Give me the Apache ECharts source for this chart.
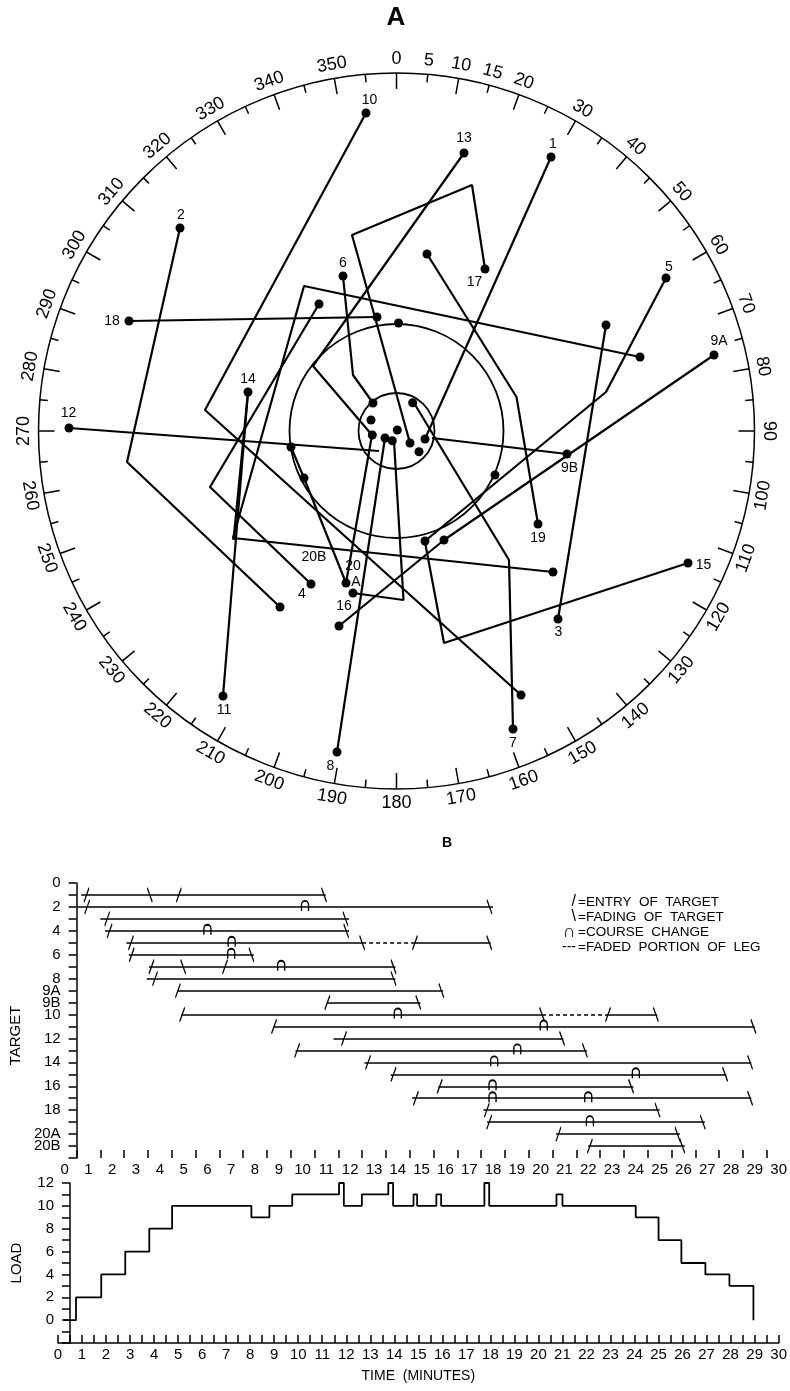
<!DOCTYPE html>
<html><head><meta charset="utf-8">
<script src="https://cdn.jsdelivr.net/npm/echarts@6/dist/echarts.min.js"></script>
<style>html,body{margin:0;padding:0;background:#fff}#c{width:790px;height:1391px}</style>
</head><body><div id="c"></div>
<script>
// ================= PANEL A : radar plot (east, north units; outer ring = 358) =================
const bearingLabels = [0,5,10,15,20,30,40,50,60,70,80,90,100,110,120,130,140,150,160,170,180,190,200,210,220,230,240,250,260,270,280,290,300,310,320,330,340,350];
const rangeRings = [38, 107];
const track1  = [[154.5,274],[28.5,-8]];
const track2  = [[-216.5,203],[-269.5,-31],[-116.5,-176]];
const track3  = [[161.5,-188],[209.5,106]];
const track4  = [[-85.5,-153],[-186.5,-56],[-77.5,127]];
const track5  = [[269.5,153],[209.5,39],[28.5,-110]];
const track6  = [[-53.5,155],[-43.5,56],[-23.5,28]];
const track7  = [[116.5,-298],[112.5,-129],[17.5,28]];
const track8  = [[-59.5,-321],[-11.5,-7]];
const track9A = [[317.5,76],[47.5,-109],[-57.5,-195]];
const track9B = [[170.5,-23],[35.5,-7]];
const track10 = [[-30.5,318],[-191.5,21],[124.5,-264]];
const track11 = [[-173.5,-265],[-148.5,39]];
const track12 = [[-327.5,3],[-17.5,-20]];
const track13 = [[67.5,278],[-83.5,65],[-24.5,-4]];
const track14 = [[-148.5,39],[-163,-109]];
const track15 = [[291.5,-132],[47.5,-212],[28.5,-111]];
const track16 = [[-43.5,-162],[7,-169],[-2.5,-10]];
const track17 = [[88.5,162],[75.5,246],[-44.5,196],[13.5,-12]];
const track18 = [[-267.5,110],[-19.5,114]];
const track19 = [[141.5,-93],[120,34],[30.5,177]];
const track20A = [[-50.5,-152],[-24.5,-4]];
const track20B = [[-105.5,-16],[-92.5,-47],[-50.5,-152]];
const trackP  = [[243.5,74],[-92.5,145],[-163.5,-107],[156.5,-141]];
const dotPoints = [[154.5,274],[28.5,-8],[-216.5,203],[-116.5,-176],[161.5,-188],[209.5,106],
  [-85.5,-153],[-77.5,127],[269.5,153],[28.5,-110],[-53.5,155],[-23.5,28],[116.5,-298],[16.2,28.3],
  [-59.5,-321],[-11.5,-7],[317.5,76],[47.5,-109],[-57.5,-195],[170.5,-23],[-30.5,318],[124.5,-264],
  [-173.5,-265],[-327.5,3],[67.5,278],[-24.2,-4],[-25.5,11],[-148.5,39],[291.5,-132],[-43.5,-162],
  [-4.2,-9.7],[88.5,162],[13.5,-12],[-267.5,110],[-19.5,114],[141.5,-93],[30.5,177],[-50.5,-152],
  [-105.5,-16],[-92.5,-47],[243.5,74],[156.5,-141],[2,108],[98.5,-44],[0.8,1],[22.5,-20.7]];
const trackLabels = [['10',-27,331],['13',67.5,293],['1',156.5,287],['2',-215.5,216],['17',78,149],
  ['6',-53.5,168],['5',272.5,164],['9A',322.5,90],['18',-284.5,110],['14',-148.5,52],['12',-328,18],
  ['9B',173,-37],['19',141.5,-107],['20B',-82.5,-126],['20',-43.5,-135],['A',-40.5,-151],['4',-94.5,-163],
  ['16',-52.5,-175],['3',162,-201],['15',307,-134],['11',-172.5,-279],['7',116.5,-312],['8',-66,-335]];

// ================= PANEL B : target timeline =================
const rowNames = ['0','1','2','3','4','5','6','7','8','9A','9B','10','11','12','13','14','15','16','17','18','19','20A','20B',''];
const shownRows = ['0','2','4','6','8','9A','9B','10','12','14','16','18','20A','20B'];
const solidLegs = [['1',0.7,10.97],['2',0.55,18.0],['3',1.5,11.95],['4',1.7,11.95],['5',2.6,12.5],['5',14.72,17.9],
  ['6',2.7,7.95],['7',3.55,13.9],['8',3.45,13.9],['9A',4.76,15.9],['9B',11.0,14.95],['10',4.9,20.06],['10',22.83,24.9],
  ['11',8.8,29.0],['12',11.3,20.95],['13',9.7,21.95],['14',12.6,28.85],['15',13.7,27.8],['16',15.7,23.9],
  ['17',14.6,28.85],['18',17.6,25.0],['19',17.75,26.9],['20A',20.65,25.85],['20B',22.0,26.05]];
const fadedLegs = [['5',12.5,14.72],['10',20.06,22.83]];
const entryMarks = [['1',0.92],['1',4.8],['2',0.95],['3',1.79],['4',1.89],['5',2.79],['5',14.72],['6',2.82],
  ['7',3.65],['7',6.74],['8',3.8],['9A',4.76],['9B',11.04],['10',4.94],['10',22.83],['11',8.8],['12',11.74],
  ['13',9.77],['14',12.75],['15',13.82],['16',15.76],['17',14.76],['18',17.74],['19',17.84],['20A',20.75],['20B',22.07]];
const fadeMarks = [['1',3.58],['1',10.9],['2',17.85],['3',11.8],['4',11.83],['5',12.5],['5',17.84],['6',7.85],
  ['7',4.98],['7',13.82],['8',13.82],['9A',15.83],['9B',14.86],['10',20.06],['10',24.84],['11',28.94],['12',20.9],
  ['13',21.86],['14',28.8],['15',27.75],['16',23.8],['17',28.8],['18',24.91],['19',26.81],['20A',25.75],['20B',25.95]];
const courseMarks = [['2',10.1],['4',6.0],['5',7.02],['6',7.0],['7',9.1],['10',14.0],['11',20.13],['13',19.02],
  ['14',18.05],['15',24.0],['16',17.98],['17',17.98],['17',22.0],['19',22.07]];

// ================= LOAD =================
const loadTimes  = [0.25,0.75,1.8,2.8,3.8,4.75,8.05,8.8,9.75,11.7,11.9,12.65,13.75,13.95,14.8,14.95,15.75,15.95,17.75,17.95,20.75,21.0,24.05,25.0,25.95,26.95,27.95,28.95];
const loadValues = [0,2,4,6,8,10,9,10,11,12,10,11,12,10,11,10,11,10,12,10,11,10,9,7,5,4,3,0];

// ---------------------------------------------------------------
const FONT = 'Liberation Sans, Arial, sans-serif';
const NARROW = 'Liberation Sans Narrow, Liberation Sans, Arial, sans-serif';
const K = '#000';
const rowIdx = n => rowNames.indexOf(n);
const tracks = [track1,track2,track3,track4,track5,track6,track7,track8,track9A,track9B,track10,track11,track12,
  track13,track14,track15,track16,track17,track18,track19,track20A,track20B,trackP];

const series = [];
series.push({type:'custom', coordinateSystem:'polar', silent:true,
  data: bearingLabels.map(b => [372, b]),
  renderItem: (p, api) => {
    const b = api.value(1); const pt = api.coord([api.value(0), b]);
    const rot = (b <= 90 || b >= 270) ? b : b - 180;
    return {type:'text', x:pt[0], y:pt[1], rotation:-rot*Math.PI/180,
      style:{text:String(b), x:0, y:0, align:'center', verticalAlign:'middle', font:'18px '+FONT, fill:K}};
  }});
series.push({type:'custom', coordinateSystem:'polar', silent:true,
  data: rangeRings.map(r => [r, 0]),
  renderItem: (p, api) => {
    const c = api.coord([0, 0]); const e = api.coord([api.value(0), 0]);
    return {type:'circle', shape:{cx:c[0], cy:c[1], r:Math.hypot(e[0]-c[0], e[1]-c[1])},
      style:{fill:'none', stroke:K, lineWidth:1.8}};
  }});
tracks.forEach(t => series.push({type:'line', xAxisIndex:0, yAxisIndex:0, data:t, symbol:'none', silent:true,
  lineStyle:{color:K, width:2.2, opacity:1}, z:3}));
series.push({type:'scatter', xAxisIndex:0, yAxisIndex:0, data:dotPoints, symbolSize:9,
  itemStyle:{color:K, opacity:1}, z:4, silent:true});
series.push({type:'scatter', xAxisIndex:0, yAxisIndex:0, symbolSize:0, silent:true,
  data: trackLabels.map(d => ({name:d[0], value:[d[1], d[2]]})), itemStyle:{opacity:1},
  label:{show:true, position:'inside', formatter:'{b}', fontSize:14, fontFamily:NARROW, color:K}});

series.push({type:'lines', coordinateSystem:'cartesian2d', xAxisIndex:1, yAxisIndex:1, silent:true,
  data: solidLegs.map(l => ({coords:[[l[1], rowIdx(l[0])],[l[2], rowIdx(l[0])]]})),
  lineStyle:{color:K, width:1.6, type:'solid', opacity:1}});
series.push({type:'lines', coordinateSystem:'cartesian2d', xAxisIndex:1, yAxisIndex:1, silent:true,
  data: fadedLegs.map(l => ({coords:[[l[1], rowIdx(l[0])],[l[2], rowIdx(l[0])]]})),
  lineStyle:{color:K, width:1.6, type:[4,3], opacity:1}});
const markStyle = {color:'transparent', borderColor:K, borderWidth:1.6, opacity:1};
series.push({type:'scatter', xAxisIndex:1, yAxisIndex:1, silent:true, symbol:'path://M0,16L6,0', symbolSize:[5,14],
  data: entryMarks.map(m => [m[1], rowIdx(m[0])]), itemStyle:markStyle, z:5});
series.push({type:'scatter', xAxisIndex:1, yAxisIndex:1, silent:true, symbol:'path://M0,0L6,16', symbolSize:[5,14],
  data: fadeMarks.map(m => [m[1], rowIdx(m[0])]), itemStyle:markStyle, z:5});
series.push({type:'scatter', xAxisIndex:1, yAxisIndex:1, silent:true, symbol:'path://M0,12L0,5A4,4,0,0,1,8,5L8,12',
  symbolSize:[7,10], symbolOffset:[0,-1],
  data: courseMarks.map(m => [m[1], rowIdx(m[0])]), itemStyle:markStyle, z:5});
series.push({type:'line', xAxisIndex:2, yAxisIndex:2, step:'end', symbol:'none', silent:true,
  data: loadTimes.map((t,i) => [t, loadValues[i]]), lineStyle:{color:K, width:1.8, opacity:1}});

const lineK = {lineStyle:{color:K, width:1.5}};
const timeAxis = (gi, extra) => Object.assign({type:'value', gridIndex:gi, min:0, max:30, interval:1,
  axisLine:{onZero:false, ...lineK}, axisTick:{inside:true, length:8, ...lineK},
  minorTick:{show:true, splitNumber:2, length:8, ...lineK}, splitLine:{show:false},
  axisLabel:{color:K, fontSize:15, fontFamily:FONT, margin:4}}, extra || {});

const lg = (x, y, t, align, size) => ({type:'text', x, y,
  style:{text:t, font:size+'px '+FONT, fill:K, align, verticalAlign:'middle'}});

const option = {
  animation:false,
  backgroundColor:'#fff',
  polar:{center:[396.5,431], radius:358},
  angleAxis:{type:'value', min:0, max:360, interval:10, startAngle:90, clockwise:true,
    axisLine:{lineStyle:{color:K, width:1.5}},
    axisTick:{show:true, inside:true, length:16, lineStyle:{color:K, width:1.5}},
    minorTick:{show:true, splitNumber:2, length:8, lineStyle:{color:K, width:1.5}},
    axisLabel:{show:false}, splitLine:{show:false}},
  radiusAxis:{type:'value', min:0, max:358, axisLine:{show:false}, axisTick:{show:false}, axisLabel:{show:false}, splitLine:{show:false}},
  grid:[
    {left:38.5, top:73, width:716, height:716},
    {left:58, top:883, width:721, height:275},
    {left:58, top:1183, width:721, height:160}
  ],
  xAxis:[
    {type:'value', gridIndex:0, min:-358, max:358, show:false},
    timeAxis(1),
    timeAxis(2, {name:'TIME  (MINUTES)', nameLocation:'middle', nameGap:26, nameTextStyle:{color:K, fontSize:14, fontFamily:FONT}})
  ],
  yAxis:[
    {type:'value', gridIndex:0, min:-358, max:358, show:false},
    {type:'category', gridIndex:1, data:rowNames, inverse:true, boundaryGap:false, offset:-12,
      axisLine:lineK, axisTick:{show:true, interval:0, length:8, ...lineK},
      axisLabel:{interval:0, color:K, fontSize:15, fontFamily:FONT, margin:16, lineHeight:12,
        formatter: v => shownRows.includes(v) ? v : ''},
      name:'TARGET', nameLocation:'middle', nameRotate:90, nameGap:46,
      nameTextStyle:{color:K, fontSize:15, fontFamily:FONT, padding:[0,30,0,0]}},
    {type:'value', gridIndex:2, min:-2, max:12, interval:1, offset:-12,
      axisLine:{onZero:false, ...lineK}, axisTick:{length:8, ...lineK}, splitLine:{show:false},
      axisLabel:{color:K, fontSize:15, fontFamily:FONT, margin:16, formatter: v => (v >= 0 && v % 2 === 0) ? String(v) : ''},
      name:'LOAD', nameLocation:'middle', nameRotate:90, nameGap:46,
      nameTextStyle:{color:K, fontSize:15, fontFamily:FONT}}
  ],
  graphic:[
    {type:'text', x:396, y:18, style:{text:'A', font:'bold 26px '+FONT, fill:K, align:'center', verticalAlign:'middle'}},
    {type:'text', x:447, y:843, style:{text:'B', font:'bold 14px '+FONT, fill:K, align:'center', verticalAlign:'middle'}},
    lg(576, 902, '/', 'right', 16), lg(578, 902, '=ENTRY  OF  TARGET', 'left', 13.5),
    lg(576, 917, '\\', 'right', 16), lg(578, 917, '=FADING  OF  TARGET', 'left', 13.5),
    lg(576, 932, '\u2229', 'right', 18), lg(578, 932, '=COURSE  CHANGE', 'left', 13.5),
    lg(576, 947, '---', 'right', 14), lg(578, 947, '=FADED  PORTION  OF  LEG', 'left', 13.5)
  ],
  series: series
};
const chart = echarts.init(document.getElementById('c'), null, {renderer:'canvas'});
chart.setOption(option);
</script></body></html>
